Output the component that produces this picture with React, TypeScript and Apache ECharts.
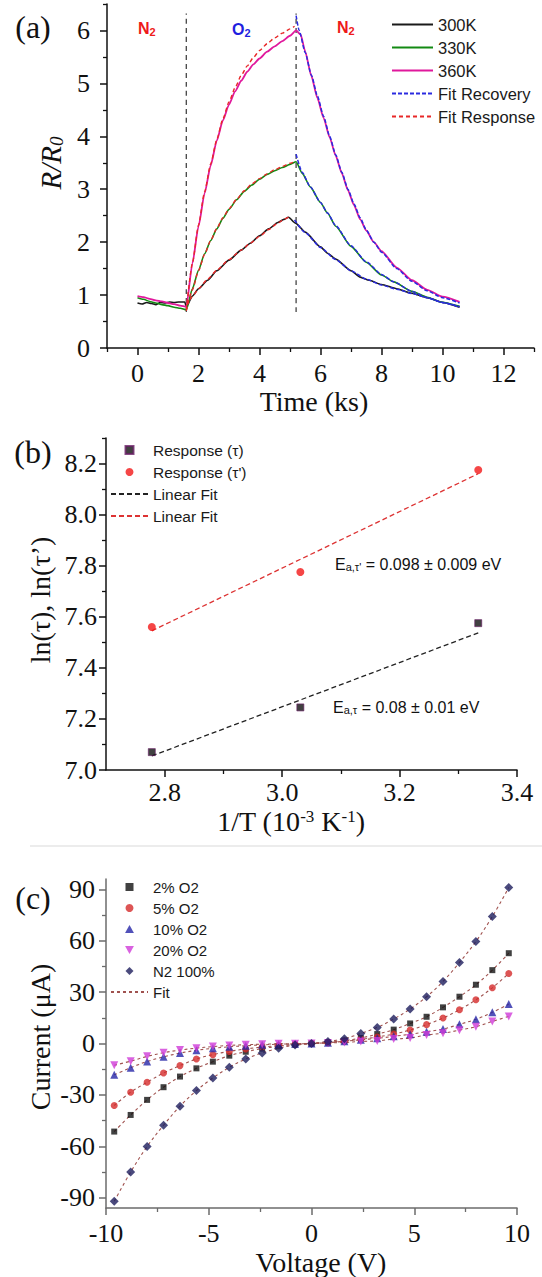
import React, { useEffect, useRef } from "react";
import * as echarts from "echarts";

const serif = '"Liberation Serif", "Times New Roman", serif';
const sans = '"Liberation Sans", Arial, sans-serif';

// ---------- Panel (a): R/R0 vs time (ks) ----------
const curve300K: [number, number][] = [
  [0, 0.85], [0.15, 0.83], [0.3, 0.86], [0.45, 0.84], [0.6, 0.82], [0.75, 0.86], [0.9, 0.85], [1.05, 0.87],
  [1.2, 0.86], [1.35, 0.87], [1.55, 0.87], [1.6, 0.78],
  [1.8, 0.98], [2.0, 1.12], [2.3, 1.28], [2.6, 1.46], [3.0, 1.66], [3.4, 1.85], [3.7, 1.98], [4.0, 2.12],
  [4.3, 2.25], [4.6, 2.37], [4.8, 2.43], [4.95, 2.47],
  [5.18, 2.36], [5.5, 2.19], [6.0, 1.91], [6.23, 1.79], [6.5, 1.68], [7.0, 1.46], [7.3, 1.34], [7.6, 1.28],
  [8.0, 1.2], [8.5, 1.12], [8.95, 1.04], [9.5, 0.95], [10.0, 0.86], [10.56, 0.77],
];
const curve330K: [number, number][] = [
  [0, 0.95], [0.2, 0.92], [0.4, 0.88], [0.6, 0.85], [0.8, 0.82], [1.0, 0.8], [1.2, 0.77], [1.4, 0.75], [1.6, 0.72],
  [1.8, 1.12], [2.0, 1.47], [2.2, 1.78], [2.4, 2.03], [2.6, 2.25], [2.8, 2.45], [3.0, 2.62], [3.25, 2.8],
  [3.5, 2.96], [3.75, 3.08], [4.0, 3.19], [4.25, 3.28], [4.5, 3.35], [4.75, 3.41], [5.0, 3.47], [5.2, 3.52],
  [5.4, 3.3], [5.67, 3.04], [6.0, 2.75], [6.23, 2.55], [6.5, 2.3], [7.0, 1.92], [7.5, 1.62], [8.0, 1.38],
  [8.4, 1.25], [9.0, 1.07], [9.5, 0.96], [9.93, 0.87], [10.56, 0.79],
];
const curve360K: [number, number][] = [
  [0, 0.98], [0.2, 0.96], [0.4, 0.93], [0.6, 0.9], [0.8, 0.88], [1.0, 0.85], [1.2, 0.83], [1.4, 0.8], [1.6, 0.78],
  [1.8, 1.6], [2.0, 2.3], [2.2, 2.92], [2.4, 3.45], [2.6, 3.92], [2.8, 4.3], [3.0, 4.6], [3.2, 4.85], [3.4, 5.05],
  [3.6, 5.22], [3.8, 5.36], [4.0, 5.47], [4.25, 5.6], [4.5, 5.7], [4.75, 5.8], [5.0, 5.9], [5.2, 6.0],
  [5.35, 5.92], [5.5, 5.6], [5.7, 5.14], [5.9, 4.72], [6.1, 4.35], [6.3, 3.98], [6.5, 3.63], [6.7, 3.3],
  [6.9, 2.98], [7.1, 2.7], [7.3, 2.43], [7.5, 2.22], [7.75, 2.0], [8.0, 1.83], [8.5, 1.52], [9.0, 1.28],
  [9.5, 1.1], [10.0, 0.97], [10.56, 0.87],
];
const fitResponse300K: [number, number][] = [
  [1.6, 0.8], [1.8, 0.97], [2.0, 1.12], [2.3, 1.3], [2.6, 1.47], [3.0, 1.67], [3.4, 1.85], [3.7, 1.98],
  [4.0, 2.11], [4.3, 2.24], [4.6, 2.36], [4.8, 2.43], [5.0, 2.49],
];
const fitResponse330K: [number, number][] = [
  [1.6, 0.7], [1.8, 1.1], [2.0, 1.46], [2.2, 1.77], [2.4, 2.03], [2.6, 2.26], [2.8, 2.46], [3.0, 2.63],
  [3.25, 2.81], [3.5, 2.97], [3.75, 3.1], [4.0, 3.2], [4.25, 3.29], [4.5, 3.37], [4.75, 3.43], [5.0, 3.49], [5.2, 3.53],
];
const fitResponse360K: [number, number][] = [
  [1.6, 0.72], [1.8, 1.6], [2.0, 2.32], [2.2, 2.95], [2.4, 3.48], [2.6, 3.94], [2.8, 4.33], [3.0, 4.65],
  [3.2, 4.92], [3.4, 5.15], [3.6, 5.33], [3.8, 5.49], [4.0, 5.62], [4.25, 5.75], [4.5, 5.86], [4.75, 5.95],
  [5.0, 6.03], [5.15, 6.08],
];
const fitRecovery300K: [number, number][] = [
  [5.15, 2.42], [5.5, 2.18], [6.0, 1.9], [6.5, 1.67], [7.0, 1.46], [7.5, 1.3], [8.0, 1.19], [8.5, 1.11],
  [9.0, 1.03], [9.5, 0.95], [10.0, 0.86], [10.56, 0.77],
];
const fitRecovery330K: [number, number][] = [
  [5.2, 3.66], [5.4, 3.32], [5.67, 3.04], [6.0, 2.75], [6.23, 2.55], [6.5, 2.31], [7.0, 1.93], [7.5, 1.63],
  [8.0, 1.39], [8.4, 1.25], [9.0, 1.07], [9.5, 0.95], [10.0, 0.86], [10.56, 0.78],
];
const fitRecovery360K: [number, number][] = [
  [5.2, 6.28], [5.3, 6.0], [5.5, 5.58], [5.7, 5.16], [5.9, 4.76], [6.1, 4.38], [6.3, 4.0], [6.5, 3.65],
  [6.7, 3.32], [6.9, 3.0], [7.1, 2.72], [7.3, 2.46], [7.5, 2.23], [7.75, 2.0], [8.0, 1.81], [8.5, 1.5],
  [9.0, 1.26], [9.5, 1.08], [10.0, 0.95], [10.56, 0.85],
];
const gasSwitchTimes = [1.6, 5.2];
const switchLineSpan = [0.68, 6.32];
const aXTicks = [0, 2, 4, 6, 8, 10, 12];
const aXMinor = [-1, 1, 3, 5, 7, 9, 11, 13];
const aYTicks = [0, 1, 2, 3, 4, 5, 6];
const aYMinor = [0.5, 1.5, 2.5, 3.5, 4.5, 5.5, 6.5];

// ---------- Panel (b): Arrhenius ----------
const invT = [2.778, 3.031, 3.334];
const lnTau = [7.07, 7.245, 7.575];
const lnTauPrime = [7.56, 7.775, 8.175];
const fitTau = [7.055, 7.537]; // at invT[0], invT[2]
const fitTauPrime = [7.545, 8.16];
const bXTicks = [2.8, 3.0, 3.2, 3.4];
const bXMinor = [2.9, 3.1, 3.3];
const bYTicks = [7.0, 7.2, 7.4, 7.6, 7.8, 8.0, 8.2];
const bYMinor = [7.1, 7.3, 7.5, 7.7, 7.9, 8.1, 8.3];

// ---------- Panel (c): I-V ----------
const voltage = [-9.6, -8.8, -8.0, -7.2, -6.4, -5.6, -4.8, -4.0, -3.2, -2.4, -1.6, -0.8, 0,
  0.8, 1.6, 2.4, 3.2, 4.0, 4.8, 5.6, 6.4, 7.2, 8.0, 8.8, 9.6];
const i2pct = [-51.4, -41.7, -32.9, -25.5, -19.3, -14.5, -10.6, -7.1, -4.8, -3.0, -1.6, -0.6, 0,
  0.7, 1.7, 3.2, 5.5, 8.1, 11.7, 15.6, 21.1, 27.3, 34.3, 42.8, 52.7];
const i5pct = [-36.2, -28.4, -22.6, -17.2, -12.9, -9.0, -6.5, -4.6, -3.2, -2.1, -1.2, -0.5, 0,
  0.5, 1.4, 2.4, 3.8, 5.5, 7.9, 11.0, 14.9, 19.7, 25.5, 32.5, 40.9];
const i10pct = [-18.3, -14.1, -10.5, -7.8, -5.6, -4.0, -2.8, -1.9, -1.3, -0.8, -0.4, -0.2, 0,
  0.5, 1.3, 2.2, 3.0, 4.2, 5.4, 6.9, 8.4, 11.2, 14.1, 18.2, 23.0];
const i20pct = [-12.7, -10.3, -7.5, -5.4, -3.8, -2.7, -1.8, -1.1, -0.7, -0.4, -0.2, -0.1, 0,
  0.3, 0.6, 1.2, 1.5, 2.6, 3.2, 5.0, 6.0, 7.8, 9.8, 12.9, 15.8];
const iN2 = [-92.1, -75.0, -60.1, -47.7, -36.6, -27.5, -20.1, -13.9, -9.0, -5.5, -2.8, -0.9, 0,
  1.2, 2.8, 5.9, 9.4, 14.3, 20.1, 27.3, 36.2, 47.3, 59.5, 74.1, 91.0];
const cXTicks = [-10, -5, 0, 5, 10];
const cXMinor = [-7.5, -2.5, 2.5, 7.5];
const cYTicks = [-90, -60, -30, 0, 30, 60, 90];
const cYMinor = [-75, -45, -15, 15, 45, 75];

const zip = (xs: number[], ys: number[]) => xs.map((x, i) => [x, ys[i]]);

const SQUARE = "path://M0,0H10V10H0Z";
const TRI_UP = "path://M5,0L10,9H0Z";
const TRI_DOWN = "path://M0,0H10L5,9Z";
const DIAMOND = "path://M5,0L10,5L5,10L0,5Z";

function majorAxis(gridIndex: number, position: string, min: number, max: number, ticks: number[],
  margin: number, color: string, fmt?: (v: number) => string) {
  return {
    type: "value", gridIndex, position, min, max,
    axisLine: { show: true, onZero: false, lineStyle: { color, width: 1.5 } },
    axisTick: { show: true, inside: false, length: 7, customValues: ticks, lineStyle: { color, width: 1.5 } },
    axisLabel: {
      show: true, customValues: ticks, margin, fontSize: 26, lineHeight: 20, fontFamily: serif, color: "#111",
      formatter: fmt || ((v: number) => String(v)),
    },
    splitLine: { show: false },
  };
}
function minorAxis(gridIndex: number, position: string, min: number, max: number, ticks: number[], color: string) {
  return {
    type: "value", gridIndex, position, min, max,
    axisLine: { show: false, onZero: false },
    axisTick: { show: true, inside: false, length: 4, customValues: ticks, lineStyle: { color, width: 1.3 } },
    axisLabel: { show: false, customValues: ticks },
    splitLine: { show: false },
  };
}

const C300 = "#1a1a1a", C330 = "#138a13", C360 = "#e0189c", CREC = "#2b2be0", CRESP = "#e82828";

function aLine(name: string, data: any[], color: string, width: number, type: any, z: number) {
  return {
    type: "line", name, data, xAxisIndex: 0, yAxisIndex: 0, symbol: "none", showSymbol: false,
    smooth: 0.2, smoothMonotone: "x", lineStyle: { color, width, type }, itemStyle: { color }, z, silent: true,
  };
}

const lineItem = (name: string) => ({ name, itemStyle: { opacity: 0 } });

function buildOption() {
  const series: any[] = [];
  gasSwitchTimes.forEach((t, i) =>
    series.push(aLine("switch" + i, [[t, switchLineSpan[0]], [t, switchLineSpan[1]]], "#444", 1.3, [5, 4], 1)));
  series.push(aLine("300K", curve300K, C300, 1.6, "solid", 2));
  series.push(aLine("330K", curve330K, C330, 1.6, "solid", 2));
  series.push(aLine("360K", curve360K, C360, 1.8, "solid", 2));
  series.push(aLine("Fit Recovery", fitRecovery300K, CREC, 1.5, [4, 2], 3));
  series.push(aLine("Fit Recovery", fitRecovery330K, CREC, 1.5, [4, 2], 3));
  series.push(aLine("Fit Recovery", fitRecovery360K, CREC, 1.5, [4, 2], 3));
  series.push(aLine("Fit Response", fitResponse300K, CRESP, 1.4, [4, 3], 3));
  series.push(aLine("Fit Response", fitResponse330K, CRESP, 1.4, [4, 3], 3));
  series.push(aLine("Fit Response", fitResponse360K, CRESP, 1.4, [4, 3], 3));

  // panel b
  series.push({
    type: "line", name: "Linear Fit (τ)", xAxisIndex: 2, yAxisIndex: 2, symbol: "none",
    data: [[invT[0], fitTau[0]], [invT[2], fitTau[1]]], lineStyle: { color: "#222", width: 1.3, type: [5, 3] },
    itemStyle: { color: "#222" }, z: 2,
  });
  series.push({
    type: "line", name: "Linear Fit (τ')", xAxisIndex: 2, yAxisIndex: 2, symbol: "none",
    data: [[invT[0], fitTauPrime[0]], [invT[2], fitTauPrime[1]]], lineStyle: { color: "#dd3333", width: 1.3, type: [5, 3] },
    itemStyle: { color: "#dd3333" }, z: 2,
  });
  series.push({
    type: "scatter", name: "Response (τ)", xAxisIndex: 2, yAxisIndex: 2, symbol: "rect", symbolSize: 7,
    data: zip(invT, lnTau), itemStyle: { color: "#111", borderColor: "#6a1f66", borderWidth: 0.8 }, z: 3,
  });
  series.push({
    type: "scatter", name: "Response (τ')", xAxisIndex: 2, yAxisIndex: 2, symbol: "circle", symbolSize: 8,
    data: zip(invT, lnTauPrime), itemStyle: { color: "#f21818" }, z: 3,
  });

  // panel c
  const cSets: [string, number[], string, string, number, string][] = [
    ["2% O2", i2pct, "#111111", "rect", 6, SQUARE],
    ["5% O2", i5pct, "#d42a2a", "circle", 7, "circle"],
    ["10% O2", i10pct, "#2525a8", TRI_UP, 8, TRI_UP],
    ["20% O2", i20pct, "#cf3bd8", TRI_DOWN, 8, TRI_DOWN],
    ["N2 100%", iN2, "#1d1d5c", DIAMOND, 9, DIAMOND],
  ];
  cSets.forEach(([, ys]) => {
    series.push({
      type: "line", name: "Fit", xAxisIndex: 4, yAxisIndex: 4, symbol: "none", smooth: 0.35,
      data: zip(voltage, ys), lineStyle: { color: "#a0524f", width: 1.1, type: [3, 3] },
      itemStyle: { color: "#a0524f" }, z: 2,
    });
  });
  cSets.forEach(([name, ys, color, symbol, size]) => {
    series.push({
      type: "scatter", name, xAxisIndex: 4, yAxisIndex: 4, symbol, symbolSize: size,
      data: zip(voltage, ys), itemStyle: { color }, z: 3,
    });
  });

  const legendCommon = {
    orient: "vertical", padding: 0, selectedMode: false, itemGap: 6, symbolKeepAspect: true,
    textStyle: { fontFamily: sans, color: "#1a1a1a", lineHeight: 16 },
  };

  const sub = (size: number, pad: number, extra: any = {}) => ({ fontSize: size, padding: [pad, 0, 0, 0], ...extra });
  const sup = (size: number, pad: number, extra: any = {}) => ({ fontSize: size, padding: [0, 0, pad, 0], ...extra });
  const title = (x: number, y: number, text: string, rotate = false) => ({
    type: "text", x, y, rotation: rotate ? Math.PI / 2 : 0,
    style: { text, fontSize: 28, lineHeight: 22, fontFamily: serif, fill: "#111", align: "center", verticalAlign: "middle" },
  });

  const graphic: any[] = [
    { type: "line", shape: { x1: 30, y1: 846, x2: 542, y2: 846 }, style: { stroke: "#e6e6e6", lineWidth: 1.5 } },
    // panel labels
    { type: "text", x: 33, y: 27, style: { text: "(a)", fontSize: 32, fontFamily: serif, fill: "#111", align: "center", verticalAlign: "middle" } },
    { type: "text", x: 33, y: 452, style: { text: "(b)", fontSize: 32, fontFamily: serif, fill: "#111", align: "center", verticalAlign: "middle" } },
    { type: "text", x: 33, y: 898, style: { text: "(c)", fontSize: 32, fontFamily: serif, fill: "#111", align: "center", verticalAlign: "middle" } },
    // axis titles
    {
      type: "text", x: 51, y: 163, rotation: Math.PI / 2,
      style: {
        text: "{i|R/R}{s|0}", fill: "#111", align: "center", verticalAlign: "middle",
        rich: { i: { fontSize: 29, fontStyle: "italic", fontFamily: serif }, s: sub(19, 10, { fontStyle: "italic", fontFamily: serif }) },
      },
    },
    title(314, 401, "Time (ks)"),
    title(40, 600, "ln(τ), ln(τ’)", true),
    {
      type: "text", x: 291, y: 821,
      style: {
        text: "{n|1/T (10}{p|-3}{n| K}{p|-1}{n|)}", fill: "#111", align: "center", verticalAlign: "middle",
        rich: { n: { fontSize: 28, lineHeight: 22, fontFamily: serif }, p: sup(17, 10, { fontFamily: serif, lineHeight: 12 }) },
      },
    },
    title(40, 1037, "Current (μA)", true),
    title(321, 1262, "Voltage (V)"),
    // gas labels
    ...[["N", 138, 28, "#ee1a1a"], ["O", 232, 29, "#1f1fe0"], ["N", 337, 27, "#ee1a1a"]].map(([g, x, y, c]) => ({
      type: "text", x, y,
      style: {
        text: `{n|${g}}{s|2}`, fill: c, align: "left", verticalAlign: "middle",
        rich: { n: { fontSize: 16, fontWeight: "bold", fontFamily: sans }, s: sub(11, 7, { fontWeight: "bold", fontFamily: sans }) },
      },
    })),
    // activation energies
    {
      type: "text", x: 335, y: 564,
      style: {
        text: "{e|E}{s|a,τ'}{e| = 0.098 ± 0.009 eV}", fill: "#111", align: "left", verticalAlign: "middle",
        rich: { e: { fontSize: 16, fontFamily: sans }, s: sub(11, 5, { fontFamily: sans }) },
      },
    },
    {
      type: "text", x: 333, y: 707,
      style: {
        text: "{e|E}{s|a,τ}{e| = 0.08 ± 0.01 eV}", fill: "#111", align: "left", verticalAlign: "middle",
        rich: { e: { fontSize: 16, fontFamily: sans }, s: sub(11, 5, { fontFamily: sans }) },
      },
    },
  ];

  return {
    animation: false,
    backgroundColor: "#ffffff",
    textStyle: { fontFamily: serif },
    grid: [
      { left: 107, top: 4, width: 427, height: 344 },
      { left: 106, top: 438, width: 411, height: 332 },
      { left: 106, top: 879, width: 411, height: 329 },
    ],
    xAxis: [
      majorAxis(0, "bottom", -1, 13, aXTicks, 15, "#111"),
      minorAxis(0, "bottom", -1, 13, aXMinor, "#111"),
      majorAxis(1, "bottom", 2.7, 3.4, bXTicks, 12, "#111", (v) => v.toFixed(1)),
      minorAxis(1, "bottom", 2.7, 3.4, bXMinor, "#111"),
      majorAxis(2, "bottom", -10, 10, cXTicks, 15, "#6b6b6b"),
      minorAxis(2, "bottom", -10, 10, cXMinor, "#6b6b6b"),
    ],
    yAxis: [
      majorAxis(0, "left", 0, 6.5, aYTicks, 17, "#111"),
      minorAxis(0, "left", 0, 6.5, aYMinor, "#111"),
      majorAxis(1, "left", 7.0, 8.3, bYTicks, 9, "#111", (v) => v.toFixed(1)),
      minorAxis(1, "left", 7.0, 8.3, bYMinor, "#111"),
      majorAxis(2, "left", -96, 96, cYTicks, 11, "#6b6b6b"),
      minorAxis(2, "left", -96, 96, cYMinor, "#6b6b6b"),
    ],
    legend: [
      {
        ...legendCommon, left: 391, top: 16, itemWidth: 41, itemHeight: 14,
        data: ["300K", "330K", "360K", "Fit Recovery", "Fit Response"].map(lineItem),
        textStyle: { ...legendCommon.textStyle, fontSize: 16.5 },
      },
      {
        ...legendCommon, left: 110, top: 442, itemWidth: 37, itemHeight: 8,
        data: [
          { name: "Response (τ)", icon: SQUARE },
          { name: "Response (τ')", icon: "circle" },
          lineItem("Linear Fit (τ)"),
          lineItem("Linear Fit (τ')"),
        ],
        formatter: (n: string) => (n.startsWith("Linear Fit") ? "Linear Fit" : n),
        textStyle: { ...legendCommon.textStyle, fontSize: 15.5 },
      },
      {
        ...legendCommon, left: 110, top: 879, itemWidth: 37, itemHeight: 8, itemGap: 5,
        data: [
          ...cSets.map(([name, , , , , icon]) => ({ name, icon })),
          lineItem("Fit"),
        ],
        textStyle: { ...legendCommon.textStyle, fontSize: 15 },
      },
    ],
    series,
    graphic,
  };
}

export default function App() {
  const ref = useRef<HTMLDivElement>(null);
  useEffect(() => {
    if (!ref.current) return;
    const chart = echarts.init(ref.current, null, { renderer: "svg" });
    chart.setOption(buildOption() as any);
    return () => chart.dispose();
  }, []);
  return (
    <div
      ref={ref}
      style={{ position: "absolute", left: 0, top: 0, width: 542, height: 1277, background: "#fff" }}
    />
  );
}
